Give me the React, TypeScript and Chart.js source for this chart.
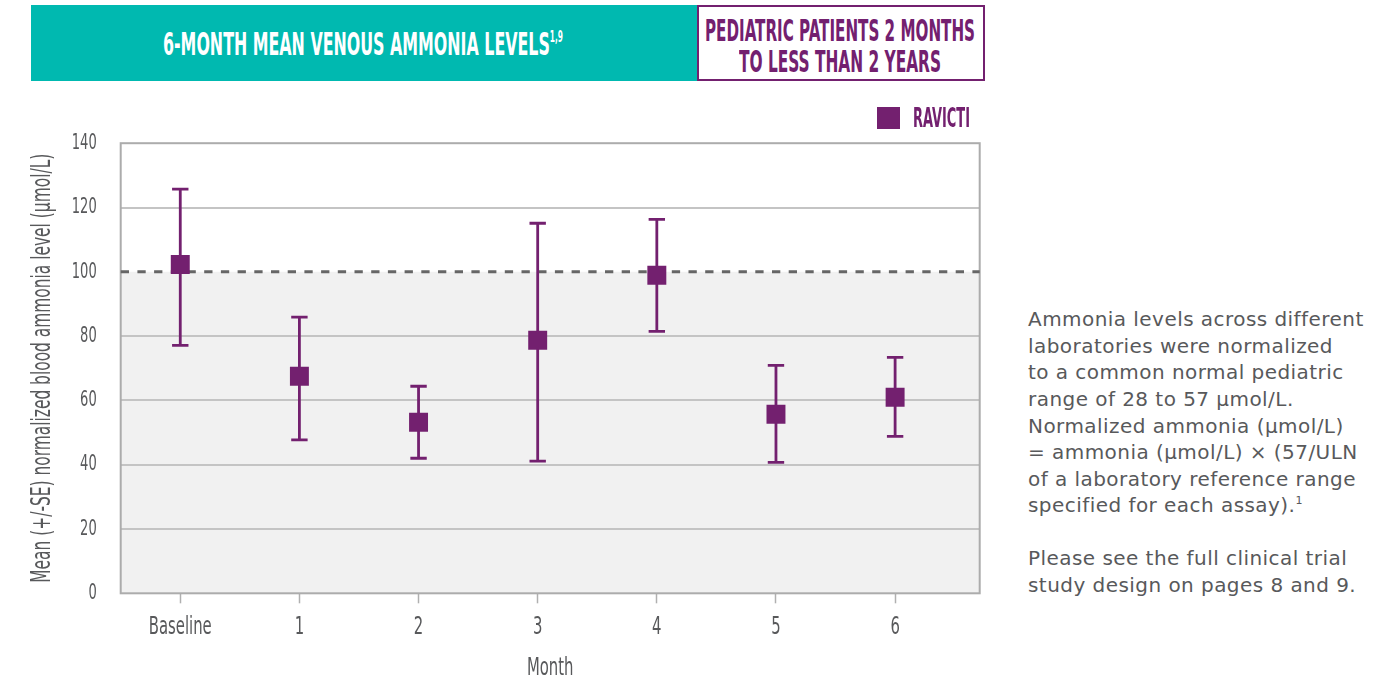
import React, { useEffect, useLayoutEffect, useRef } from 'react';
import { Chart, registerables } from 'chart.js';

Chart.register(...registerables);

// ---------- data ----------
const categories = ['Baseline', '1', '2', '3', '4', '5', '6'];
const meanLevels = [102.3, 67.5, 53.2, 78.7, 98.9, 55.7, 61.0];
const upperSE = [125.7, 85.9, 64.4, 115.1, 116.3, 70.9, 73.4];
const lowerSE = [77.1, 47.7, 42.0, 41.1, 81.5, 40.7, 48.8];
const yTicks = [0, 20, 40, 60, 80, 100, 120, 140];
const normalUpperLimit = 100;
const seriesName = 'RAVICTI';

const PURPLE = '#73206f';
const TEAL = '#00b9b0';
const GRAY_TEXT = '#58595b';
const NARROW = "'Liberation Sans Narrow', 'DejaVu Sans Condensed', 'Arial Narrow', sans-serif";
const CONDENSE = 0.66;

const CANVAS_W = 1000;
const CANVAS_H = 681;

// draws the chart's own text labels horizontally condensed (like the original condensed typeface)
const condensePlugin = {
  id: 'condense',
  beforeDraw(chart: any) {
    const ctx: any = chart.ctx;
    if (ctx.__origFill) return;
    const orig = ctx.fillText;
    ctx.__origFill = orig;
    ctx.fillText = function (text: string, x: number, y: number, maxWidth?: number) {
      this.save();
      this.translate(x, y);
      this.scale(CONDENSE, 1);
      if (maxWidth === undefined || maxWidth === null) orig.call(this, text, 0, 0);
      else orig.call(this, text, 0, 0, maxWidth / CONDENSE);
      this.restore();
    };
  },
  afterDraw(chart: any) {
    const ctx: any = chart.ctx;
    if (ctx.__origFill) {
      ctx.fillText = ctx.__origFill;
      delete ctx.__origFill;
    }
  },
};

const overlayPlugin = {
  id: 'overlay',
  beforeDraw(chart: any) {
    const { ctx, chartArea: a, scales } = chart;
    const y = scales.y;
    const yTop = y.getPixelForValue(normalUpperLimit);
    const yBot = y.getPixelForValue(0);
    ctx.save();
    ctx.fillStyle = '#f1f1f1';
    ctx.fillRect(a.left, yTop, a.right - a.left, yBot - yTop);
    ctx.restore();
  },
  beforeDatasetsDraw(chart: any) {
    const { ctx, chartArea: a, scales } = chart;
    const x = scales.x;
    const y = scales.y;
    ctx.save();
    // plot frame
    ctx.strokeStyle = '#acacac';
    ctx.lineWidth = 2;
    ctx.strokeRect(a.left, a.top, a.right - a.left, a.bottom - a.top);
    // dashed normal limit line
    const yl = y.getPixelForValue(normalUpperLimit);
    ctx.strokeStyle = '#666666';
    ctx.lineWidth = 3;
    ctx.setLineDash([8.3, 8.4]);
    ctx.beginPath();
    ctx.moveTo(a.left, yl);
    ctx.lineTo(a.right, yl);
    ctx.stroke();
    ctx.setLineDash([]);
    // error bars
    ctx.strokeStyle = PURPLE;
    ctx.lineWidth = 2.8;
    categories.forEach((_, i) => {
      const px = x.getPixelForValue(i);
      const yt = y.getPixelForValue(upperSE[i]);
      const yb = y.getPixelForValue(lowerSE[i]);
      ctx.beginPath();
      ctx.moveTo(px, yt);
      ctx.lineTo(px, yb);
      ctx.moveTo(px - 8.2, yt);
      ctx.lineTo(px + 8.2, yt);
      ctx.moveTo(px - 8.2, yb);
      ctx.lineTo(px + 8.2, yb);
      ctx.stroke();
    });
    ctx.restore();
  },
};

function FitText(props: {
  left: number;
  top: number;
  width: number;
  fontSize: number;
  color: string;
  weight?: number;
  family?: string;
  children: React.ReactNode;
}) {
  const ref = useRef<HTMLSpanElement>(null);
  useLayoutEffect(() => {
    const el = ref.current;
    if (!el) return;
    el.style.transform = 'none';
    const w = el.getBoundingClientRect().width;
    if (w > 0) el.style.transform = `scaleX(${props.width / w})`;
  });
  return (
    <span
      ref={ref}
      style={{
        position: 'absolute',
        left: props.left,
        top: props.top,
        fontSize: props.fontSize,
        lineHeight: `${props.fontSize}px`,
        color: props.color,
        fontWeight: props.weight ?? 400,
        fontFamily: props.family ?? NARROW,
        whiteSpace: 'nowrap',
        display: 'inline-block',
        transformOrigin: '0 0',
      }}
    >
      {props.children}
    </span>
  );
}

const noteLines = [
  'Ammonia levels across different',
  'laboratories were normalized',
  'to a common normal pediatric',
  'range of 28 to 57 µmol/L.',
  'Normalized ammonia (µmol/L)',
  '= ammonia (µmol/L) × (57/ULN',
  'of a laboratory reference range',
  'specified for each assay).',
  '',
  'Please see the full clinical trial',
  'study design on pages 8 and 9.',
];

export default function App() {
  const canvasRef = useRef<HTMLCanvasElement>(null);

  useEffect(() => {
    const canvas = canvasRef.current;
    if (!canvas) return;
    const chart = new Chart(canvas, {
      type: 'scatter',
      data: {
        datasets: [
          {
            label: seriesName,
            data: meanLevels.map((m, i) => ({ x: i, y: m })),
            pointStyle: 'rect',
            pointRadius: 13.4,
            pointHoverRadius: 13.4,
            backgroundColor: PURPLE,
            borderColor: PURPLE,
            borderWidth: 0,
            showLine: false,
          },
        ],
      },
      options: {
        animation: false,
        responsive: false,
        events: [],
        layout: { padding: { left: 0, top: 143.2, right: CANVAS_W - 979.7, bottom: 0 } },
        plugins: {
          legend: { display: false },
          tooltip: { enabled: false },
        },
        scales: {
          x: {
            type: 'linear',
            min: -0.5,
            max: 6.71,
            afterBuildTicks: (s: any) => {
              s.ticks = categories.map((_, i) => ({ value: i }));
            },
            afterFit: (s: any) => {
              s.height = CANVAS_H - 593.3;
            },
            grid: {
              drawOnChartArea: false,
              drawTicks: true,
              tickLength: 10,
              tickColor: '#b0b0b0',
              tickWidth: 1.5,
            },
            border: { display: false },
            ticks: {
              callback: (v: any) => categories[v] ?? '',
              autoSkip: false,
              maxRotation: 0,
              padding: 9,
              color: GRAY_TEXT,
              font: { family: NARROW, size: 25, lineHeight: 1.2 },
            },
            title: {
              display: true,
              text: 'Month',
              color: GRAY_TEXT,
              font: { family: NARROW, size: 25, lineHeight: 1 },
              padding: { top: 0, bottom: 0 },
            },
          },
          y: {
            type: 'linear',
            min: 0,
            max: 140,
            afterBuildTicks: (s: any) => {
              s.ticks = yTicks.map((v) => ({ value: v }));
            },
            afterFit: (s: any) => {
              s.width = 120.7;
            },
            grid: {
              drawTicks: false,
              lineWidth: 2,
              color: (c: any) =>
                c.tick && (c.tick.value === 0 || c.tick.value === normalUpperLimit || c.tick.value === 140)
                  ? 'rgba(0,0,0,0)'
                  : '#c4c4c4',
            },
            border: { display: false },
            ticks: {
              padding: 24,
              color: GRAY_TEXT,
              font: { family: NARROW, size: 22 },
            },
            title: {
              display: true,
              text: 'Mean (+/-SE) normalized blood ammonia level (µmol/L)',
              color: GRAY_TEXT,
              font: { family: NARROW, size: 26, lineHeight: 1.2 },
              padding: { top: 27.4, bottom: 0 },
            },
          },
        },
      },
      plugins: [condensePlugin, overlayPlugin],
    } as any);
    return () => chart.destroy();
  }, []);

  return (
    <div
      style={{
        position: 'absolute',
        left: 0,
        top: 0,
        width: 1399,
        height: 681,
        overflow: 'hidden',
        background: '#ffffff',
      }}
    >
      <canvas
        ref={canvasRef}
        width={CANVAS_W}
        height={CANVAS_H}
        style={{ position: 'absolute', left: 0, top: 0, width: CANVAS_W, height: CANVAS_H }}
      />

      {/* header bar */}
      <div style={{ position: 'absolute', left: 31, top: 5, width: 666, height: 76, background: TEAL }} />
      <FitText left={163} top={28} width={400} fontSize={32} color="#ffffff" weight={700}>
        6-MONTH MEAN VENOUS AMMONIA LEVELS
        <span style={{ fontSize: 15, position: 'relative', top: -13 }}>1,9</span>
      </FitText>

      <div
        style={{
          position: 'absolute',
          left: 697,
          top: 5,
          width: 288,
          height: 76,
          boxSizing: 'border-box',
          border: `2px solid ${PURPLE}`,
          background: '#ffffff',
        }}
      />
      <FitText left={705} top={14.8} width={270} fontSize={31} color={PURPLE} weight={700}>
        PEDIATRIC PATIENTS 2 MONTHS
      </FitText>
      <FitText left={739} top={45.5} width={202} fontSize={31} color={PURPLE} weight={700}>
        TO LESS THAN 2 YEARS
      </FitText>

      {/* legend */}
      <div style={{ position: 'absolute', left: 877, top: 107, width: 23, height: 22, background: PURPLE }} />
      <FitText left={913} top={105} width={57} fontSize={26} color={PURPLE} weight={700}>
        {seriesName}
      </FitText>

      {/* side note */}
      <div
        style={{
          position: 'absolute',
          left: 1028,
          top: 306.3,
          fontFamily: "'DejaVu Sans', sans-serif",
          fontSize: 20,
          letterSpacing: '0.45px',
          color: GRAY_TEXT,
          whiteSpace: 'nowrap',
        }}
      >
        {noteLines.map((line, i) => (
          <div key={i} style={{ height: 26.57, lineHeight: '26.57px' }}>
            {line}
            {i === 7 ? <span style={{ fontSize: 11, position: 'relative', top: -8 }}>1</span> : null}
          </div>
        ))}
      </div>
    </div>
  );
}
